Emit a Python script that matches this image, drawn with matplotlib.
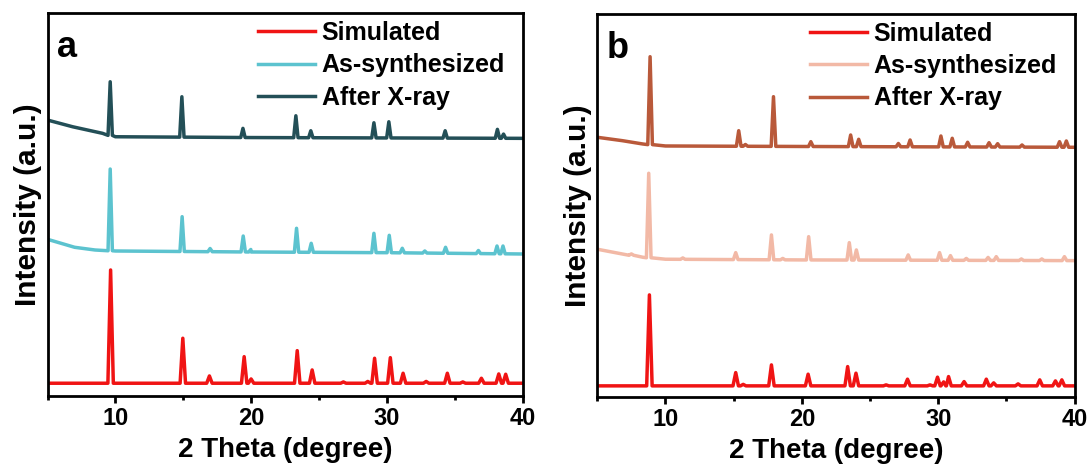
import numpy as np
import matplotlib
matplotlib.use("Agg")
import matplotlib.pyplot as plt
from matplotlib.ticker import MultipleLocator

plt.rcParams["font.family"] = ["Liberation Sans", "DejaVu Sans"]
plt.rcParams["font.weight"] = "bold"

# ---- panel a ----
# Simulated
a_sim_bx = [5, 40]
a_sim_by = [12.7, 12.7]
a_sim_pos = [9.65, 14.97, 16.93, 19.49, 20.0, 23.4, 24.5, 26.8, 28.6, 29.1,
             30.26, 31.2, 32.9, 34.46, 35.6, 36.97, 38.25, 38.76]
a_sim_top = [126, 57.7, 20, 39.3, 17, 45.3, 26, 14, 14.5, 37.7,
             38.3, 22.7, 14.5, 22.7, 14, 17.7, 22, 21.7]
# As-synthesized
a_syn_bx = [5, 6, 7, 8.5, 10, 20, 30, 40]
a_syn_by = [156.7, 152.7, 148.7, 146, 145, 144, 143.3, 142]
a_syn_pos = [9.62, 14.92, 16.98, 19.42, 19.98, 23.35, 24.43, 29.05, 30.18,
             31.14, 32.8, 34.33, 36.75, 38.12, 38.56]
a_syn_top = [227, 179.3, 147.5, 160, 146.5, 167.7, 152.7, 162.7, 160.7,
             147.7, 145, 148.7, 145.5, 150, 150]
# After X-ray
a_xr_bx = [5, 6.85, 9.06, 10, 20, 40]
a_xr_by = [276, 269.3, 262.7, 259.3, 258.5, 257.7]
a_xr_pos = [9.62, 14.9, 19.4, 23.3, 24.4, 29.05, 30.15, 34.3, 38.15, 38.6]
a_xr_top = [314.3, 299.3, 267.7, 280.3, 265.3, 273.3, 274.3, 265.3, 266.7, 262]

# ---- panel b ----
b_sim_bx = [5, 40]
b_sim_by = [11, 11]
b_sim_pos = [8.82, 15.15, 15.7, 17.77, 20.46, 23.36, 23.97, 26.18, 27.75, 29.4,
             29.95, 30.4, 30.76, 31.9, 33.53, 34.07, 35.86, 37.45, 38.6, 39.07]
b_sim_top = [102, 24.3, 12.5, 32, 22.7, 30.3, 23.7, 12, 17.7, 12,
             19.7, 15, 20.3, 15.3, 17.7, 14, 13, 17, 16, 17]

b_syn_bx = [5, 7.35, 8.33, 10, 20, 40]
b_syn_by = [147.7, 142, 139.7, 137.7, 137, 136.3]
b_syn_pos = [7.5, 8.77, 11.27, 15.15, 17.77, 18.6, 20.5, 23.48, 24.0, 27.8,
             30.1, 30.9, 32.06, 33.66, 34.26, 36.1, 37.6, 39.26]
b_syn_top = [143, 223.7, 139, 144.3, 162, 138.5, 160.3, 154.3, 147, 142,
             144.3, 141.3, 138.5, 139.5, 140.3, 138, 138, 140.3]

b_xr_bx = [5, 6.84, 8.33, 10, 20, 40]
b_xr_by = [259.7, 256.3, 253, 251, 250.5, 249.7]
b_xr_pos = [8.87, 15.37, 15.86, 17.92, 20.66, 23.58, 24.17, 27.08, 27.94, 30.2,
            31.03, 32.16, 33.73, 34.36, 36.15, 38.9, 39.4]
b_xr_top = [340.3, 266.3, 252.5, 300.3, 255.3, 262, 257.7, 253.5, 257, 261,
            258.7, 254.7, 254.3, 253.3, 252, 255.3, 256]

labels = ["Simulated", "As-synthesized", "After X-ray"]
colors_a = ["#f01414", "#5cc3cf", "#234f57"]
colors_b = ["#f01414", "#f2b9a6", "#b9593a"]


def pattern(bx, by, pos, top, hw):
    # baseline knots plus a sharp triangle at every peak
    xs = list(bx)
    ys = list(by)
    for p, t in zip(pos, top):
        b = np.interp(p, bx, by)
        xs += [p - hw, p, p + hw]
        ys += [b, t, b]
    order = np.argsort(xs, kind="stable")
    return np.array(xs)[order], np.array(ys)[order]


def style_axes(ax, letter):
    ax.set_xlim(5, 40)
    ax.set_ylim(0, 383)
    ax.xaxis.set_major_locator(MultipleLocator(10))
    ax.xaxis.set_minor_locator(MultipleLocator(5))
    ax.set_yticks([])
    ax.tick_params(axis="x", which="major", direction="out", length=5, width=2,
                   labelsize=17, pad=3)
    ax.tick_params(axis="x", which="minor", direction="out", length=3, width=2)
    for s in ax.spines.values():
        s.set_linewidth(2)
    ax.set_xlabel("2 Theta (degree)", fontsize=20, fontweight="bold", labelpad=5)
    ax.set_ylabel("Intensity (a.u.)", fontsize=21.5, fontweight="bold", labelpad=4)
    ax.text(0.02, 0.955, letter, transform=ax.transAxes, fontsize=26,
            fontweight="bold", va="top", ha="left")
    ax.legend(loc="upper right", bbox_to_anchor=(1.0, 1.025), frameon=False,
              fontsize=18, handlelength=2.3, handletextpad=0.25,
              labelspacing=0.33, borderaxespad=0.3)


fig = plt.figure(figsize=(10.92, 4.68), dpi=100)
ax_a = fig.add_axes([0.0435, 0.154, 0.435, 0.818])
ax_b = fig.add_axes([0.547, 0.152, 0.437, 0.818])

curves_a = [(a_sim_bx, a_sim_by, a_sim_pos, a_sim_top, 0.2),
            (a_syn_bx, a_syn_by, a_syn_pos, a_syn_top, 0.16),
            (a_xr_bx, a_xr_by, a_xr_pos, a_xr_top, 0.16)]
curves_b = [(b_sim_bx, b_sim_by, b_sim_pos, b_sim_top, 0.2),
            (b_syn_bx, b_syn_by, b_syn_pos, b_syn_top, 0.17),
            (b_xr_bx, b_xr_by, b_xr_pos, b_xr_top, 0.17)]

for ax, curves, colors, letter in [(ax_a, curves_a, colors_a, "a"),
                                   (ax_b, curves_b, colors_b, "b")]:
    for (bx, by, pos, top, hw), c, lab in zip(curves, colors, labels):
        x, y = pattern(bx, by, pos, top, hw)
        ax.plot(x, y, color=c, lw=2.5, label=lab, solid_joinstyle="round")
    style_axes(ax, letter)

fig.savefig("out.png", dpi=100)
